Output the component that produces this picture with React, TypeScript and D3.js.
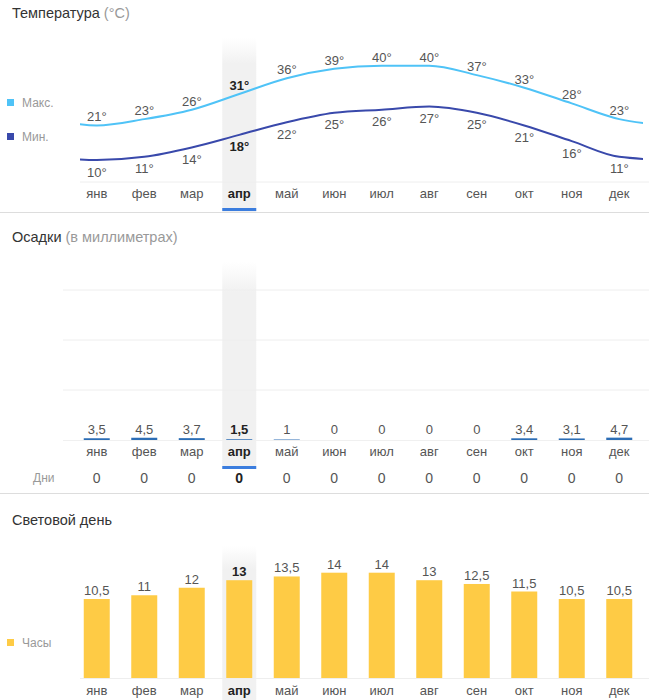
import React from "react";
import * as d3 from "d3";

const months = ["янв", "фев", "мар", "апр", "май", "июн", "июл", "авг", "сен", "окт", "ноя", "дек"];
const tempMax = [21, 23, 26, 31, 36, 39, 40, 40, 37, 33, 28, 23];
const tempMin = [10, 11, 14, 18, 22, 25, 26, 27, 25, 21, 16, 11];
const precip = [3.5, 4.5, 3.7, 1.5, 1, 0, 0, 0, 0, 3.4, 3.1, 4.7];
const precipLabels = ["3,5", "4,5", "3,7", "1,5", "1", "0", "0", "0", "0", "3,4", "3,1", "4,7"];
const rainDays = [0, 0, 0, 0, 0, 0, 0, 0, 0, 0, 0, 0];
const daylight = [10.5, 11, 12, 13, 13.5, 14, 14, 13, 12.5, 11.5, 10.5, 10.5];
const daylightLabels = ["10,5", "11", "12", "13", "13,5", "14", "14", "13", "12,5", "11,5", "10,5", "10,5"];
const precipGrid = [100, 200, 300];
const selected = 3;

const W = 649;
const H = 700;
const FONT = "Arial, 'Liberation Sans', sans-serif";
const C_MAX = "#4fc3f7";
const C_MIN = "#3949ab";
const C_PRECIP = "#2c6db5";
const C_SUN = "#fecb45";
const C_SEL = "#3b7dde";
const C_TEXT = "#555";

export default function App() {
  const x = d3.scaleBand<string>().domain(months).range([73, 643]).padding(0);
  const step = x.step();
  const cx = (i: number) => (x(months[0]) as number) + step / 2 + i * step;

  // Temperature
  const yT = d3.scaleLinear().domain([10, 40]).range([160, 65.7]);
  const ext = (arr: number[]) => [arr[11], ...arr, arr[0]].map((v, k) => [cx(k - 1), yT(v)] as [number, number]);
  const line = d3.line<[number, number]>().x((d) => d[0]).y((d) => d[1]).curve(d3.curveMonotoneX);

  // Precipitation
  const yP = d3.scaleLinear().domain([0, 300]).range([440, 290]);
  // Daylight
  const yS = d3.scaleLinear().domain([0, 14]).range([678, 572.7]);

  const barW = 26;
  const selX = cx(selected) - 17;

  const band = (y0: number, y1: number) => (
    <rect x={selX} y={y0} width={34} height={y1 - y0} fill="url(#selGrad)" />
  );

  return (
    <svg width={W} height={H} style={{ position: "absolute", left: 0, top: 0, fontFamily: FONT }}>
      <defs>
        <linearGradient id="selGrad" x1="0" y1="0" x2="0" y2="1">
          <stop offset="0" stopColor="#f1f1f1" stopOpacity={0} />
          <stop offset="0.15" stopColor="#f1f1f1" stopOpacity={1} />
          <stop offset="1" stopColor="#f1f1f1" stopOpacity={1} />
        </linearGradient>
        <clipPath id="tclip">
          <rect x={80} y={30} width={563} height={160} />
        </clipPath>
      </defs>
      <rect x={0} y={0} width={W} height={H} fill="#fff" />

      {/* ===== Temperature ===== */}
      <text x={12} y={18} fontSize={14.5} fill="#333">
        Температура <tspan fill="#999">(°C)</tspan>
      </text>
      {band(38, 212)}
      <line x1={80} x2={W} y1={182} y2={182} stroke="#eee" />
      <rect x={7} y={99} width={7} height={7} fill={C_MAX} />
      <text x={22} y={107} fontSize={12} fill="#999">Макс.</text>
      <rect x={7} y={133} width={7} height={7} fill={C_MIN} />
      <text x={22} y={141} fontSize={12} fill="#999">Мин.</text>
      <g clipPath="url(#tclip)">
        <path d={line(ext(tempMax)) || ""} fill="none" stroke={C_MAX} strokeWidth={2} />
        <path d={line(ext(tempMin)) || ""} fill="none" stroke={C_MIN} strokeWidth={2} />
      </g>
      {tempMax.map((v, i) => (
        <text key={"tx" + i} x={cx(i)} y={yT(v) - 4} fontSize={13} textAnchor="middle"
          fill={i === selected ? "#222" : C_TEXT} fontWeight={i === selected ? "bold" : "normal"}>
          {v}°
        </text>
      ))}
      {tempMin.map((v, i) => (
        <text key={"tn" + i} x={cx(i)} y={yT(v) + 16.5} fontSize={13} textAnchor="middle"
          fill={i === selected ? "#222" : C_TEXT} fontWeight={i === selected ? "bold" : "normal"}>
          {v}°
        </text>
      ))}
      {months.map((m, i) => (
        <text key={"m1" + i} x={cx(i)} y={198} fontSize={13} textAnchor="middle"
          fill={i === selected ? "#222" : C_TEXT} fontWeight={i === selected ? "bold" : "normal"}>
          {m}
        </text>
      ))}
      <rect x={selX} y={208} width={34} height={3} fill={C_SEL} />
      <line x1={0} x2={W} y1={212.5} y2={212.5} stroke="#ddd" />

      {/* ===== Precipitation ===== */}
      <text x={12} y={242} fontSize={14.5} fill="#333">
        Осадки <tspan fill="#999">(в миллиметрах)</tspan>
      </text>
      {band(262, 466)}
      {precipGrid.map((g) => (
        <line key={"g" + g} x1={63} x2={W} y1={yP(g)} y2={yP(g)} stroke="#eee" />
      ))}
      <line x1={63} x2={W} y1={440.5} y2={440.5} stroke="#f0f0f0" />
      {precip.map((v, i) => (
        <rect key={"pb" + i} x={cx(i) - barW / 2} y={yP(v)} width={barW} height={yP(0) - yP(v)} fill={C_PRECIP} />
      ))}
      {precipLabels.map((l, i) => (
        <text key={"pl" + i} x={cx(i)} y={434} fontSize={13} textAnchor="middle"
          fill={i === selected ? "#222" : C_TEXT} fontWeight={i === selected ? "bold" : "normal"}>
          {l}
        </text>
      ))}
      {months.map((m, i) => (
        <text key={"m2" + i} x={cx(i)} y={456} fontSize={13} textAnchor="middle"
          fill={i === selected ? "#222" : C_TEXT} fontWeight={i === selected ? "bold" : "normal"}>
          {m}
        </text>
      ))}
      <rect x={selX} y={466} width={34} height={3} fill={C_SEL} />
      <text x={33} y={482} fontSize={12} fill="#999">Дни</text>
      {rainDays.map((d, i) => (
        <text key={"d" + i} x={cx(i)} y={483} fontSize={14} textAnchor="middle"
          fill={i === selected ? "#222" : C_TEXT} fontWeight={i === selected ? "bold" : "normal"}>
          {d}
        </text>
      ))}
      <line x1={0} x2={W} y1={493.5} y2={493.5} stroke="#ddd" />

      {/* ===== Daylight ===== */}
      <text x={12} y={524.5} fontSize={14.5} fill="#333">Световой день</text>
      {band(546, 700)}
      <rect x={7} y={639} width={7} height={7} fill={C_SUN} />
      <text x={22} y={647} fontSize={12} fill="#999">Часы</text>
      <line x1={80} x2={W} y1={678.5} y2={678.5} stroke="#eee" />
      {daylight.map((v, i) => (
        <rect key={"sb" + i} x={cx(i) - barW / 2} y={yS(v)} width={barW} height={yS(0) - yS(v)} fill={C_SUN} />
      ))}
      {daylightLabels.map((l, i) => (
        <text key={"sl" + i} x={cx(i)} y={yS(daylight[i]) - 4} fontSize={13} textAnchor="middle"
          fill={i === selected ? "#222" : C_TEXT} fontWeight={i === selected ? "bold" : "normal"}>
          {l}
        </text>
      ))}
      {months.map((m, i) => (
        <text key={"m3" + i} x={cx(i)} y={695} fontSize={13} textAnchor="middle"
          fill={i === selected ? "#222" : C_TEXT} fontWeight={i === selected ? "bold" : "normal"}>
          {m}
        </text>
      ))}
    </svg>
  );
}
